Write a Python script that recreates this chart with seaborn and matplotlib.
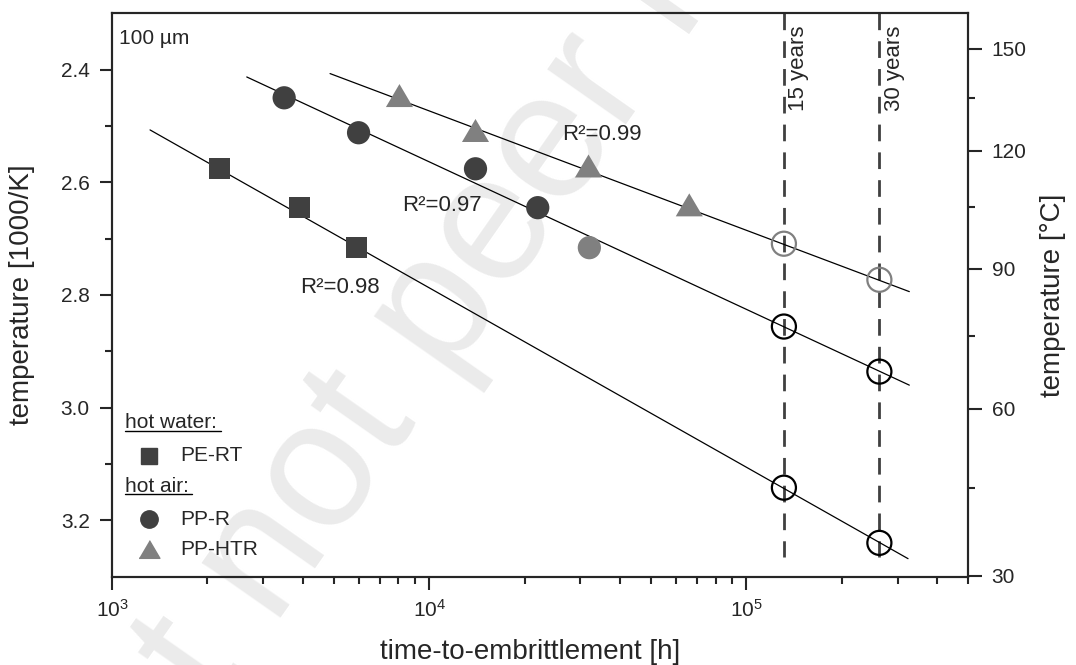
import numpy as np
import matplotlib
matplotlib.use("Agg")
import matplotlib.pyplot as plt
from matplotlib.markers import MarkerStyle
from matplotlib.ticker import FixedLocator, FixedFormatter, LogLocator, NullFormatter
from matplotlib.lines import Line2D
import seaborn as sns

# lifetimes [h] vs. inverse ageing temperature [1000/K]
pe_rt_time = [2180, 3900, 5900]
pe_rt_invT = [2.576, 2.645, 2.716]

pp_r_time = [3490, 5990, 14000, 22000]
pp_r_invT = [2.450, 2.512, 2.576, 2.645]
pp_r_out_time = [32000]
pp_r_out_invT = [2.716]

pp_htr_time = [8060, 14000, 31800, 66100]
pp_htr_invT = [2.446, 2.508, 2.571, 2.640]

# fitted Arrhenius lines (end points)
pe_rt_fit_time = [1318, 323600]
pe_rt_fit_invT = [2.507, 3.268]
pp_r_fit_time = [2660, 326600]
pp_r_fit_invT = [2.413, 2.960]
pp_htr_fit_time = [4870, 326600]
pp_htr_fit_invT = [2.407, 2.794]

# extrapolated values at 15 and 30 years
lifetime_years = [15, 30]
hours_per_year = 8760
extrap_pe_rt = [3.142, 3.240]
extrap_pp_r = [2.856, 2.936]
extrap_pp_htr = [2.709, 2.773]

left_major = [2.4, 2.6, 2.8, 3.0, 3.2]
left_minor = [2.5, 2.7, 2.9, 3.1]
right_major_C = [30, 60, 90, 120, 150]
right_minor_C = [45, 75, 105, 135]

dark = "#404040"
grey = "#808080"

sns.set_style("ticks")
plt.rcParams["font.family"] = ["Liberation Sans", "DejaVu Sans"]
plt.rcParams["mathtext.default"] = "regular"

fig, ax = plt.subplots(figsize=(10.76, 6.65), dpi=100)
fig.subplots_adjust(left=0.1041, right=0.8996, top=0.98, bottom=0.1328)
ax.set_facecolor("none")

# watermark behind everything
fig.text(0.42, 0.56, "Preprint not peer reviewed", rotation=55, fontsize=130,
         color="#ebebeb", ha="center", va="center", zorder=-5)

ax.set_xscale("log")
ax.set_xlim(1e3, 5e5)
ax.set_ylim(3.3, 2.3)

# fit lines
for xs, ys in [(pe_rt_fit_time, pe_rt_fit_invT), (pp_r_fit_time, pp_r_fit_invT),
               (pp_htr_fit_time, pp_htr_fit_invT)]:
    sns.lineplot(x=xs, y=ys, color="black", linewidth=0.9, estimator=None, ax=ax, zorder=2)

# 15 / 30 years
life_hours = np.array(lifetime_years) * hours_per_year
ax.vlines(life_hours, ymin=2.3, ymax=3.265, colors=dark, linestyles=(0, (6, 4)),
          linewidth=2, zorder=1)
for h, yrs in zip(life_hours, lifetime_years):
    ax.annotate(f"{yrs} years", xy=(h, 0.979), xycoords=("data", "axes fraction"),
                xytext=(3, 0), textcoords="offset points", rotation=90,
                ha="left", va="top", fontsize=16)

tri = MarkerStyle([(-1, -0.85), (1, -0.85), (0, 0.85)])

sns.scatterplot(x=pe_rt_time, y=pe_rt_invT, marker="s", s=225, color=dark,
                edgecolor="none", linewidth=0, ax=ax, zorder=3)
sns.scatterplot(x=pp_r_time, y=pp_r_invT, marker="o", s=280, color=dark,
                edgecolor="none", linewidth=0, ax=ax, zorder=3)
sns.scatterplot(x=pp_r_out_time, y=pp_r_out_invT, marker="o", s=280, color=grey,
                edgecolor="none", linewidth=0, ax=ax, zorder=3)
sns.scatterplot(x=pp_htr_time, y=pp_htr_invT, marker=tri, s=380, color=grey,
                edgecolor="none", linewidth=0, ax=ax, zorder=3)

# extrapolated points (open circles)
sns.scatterplot(x=life_hours, y=extrap_pp_htr, marker="o", s=300, facecolors="none",
                edgecolor=grey, linewidth=1.6, ax=ax, zorder=4)
sns.scatterplot(x=life_hours, y=extrap_pp_r, marker="o", s=300, facecolors="none",
                edgecolor="black", linewidth=1.6, ax=ax, zorder=4)
sns.scatterplot(x=life_hours, y=extrap_pe_rt, marker="o", s=300, facecolors="none",
                edgecolor="black", linewidth=1.6, ax=ax, zorder=4)

# R² labels
ax.text(3917, 2.787, "R²=0.98", fontsize=16, ha="left", va="center")
ax.text(8222, 2.642, "R²=0.97", fontsize=16, ha="left", va="center")
ax.text(26280, 2.516, "R²=0.99", fontsize=16, ha="left", va="center")
ax.text(0.008, 0.955, "100 µm", transform=ax.transAxes, fontsize=15, ha="left", va="center")

# hand made legend
tr = ax.transAxes
ax.text(0.0152, 0.2728, "hot water:", transform=tr, fontsize=15, ha="left", va="center")
ax.add_line(Line2D([0.0152, 0.127], [0.259, 0.259], transform=tr, color="black", lw=1))
ax.plot([0.0436], [0.2148], marker="s", ms=11.5, color=dark, transform=tr, clip_on=False)
ax.text(0.0794, 0.2148, "PE-RT", transform=tr, fontsize=15, ha="left", va="center")
ax.text(0.0152, 0.1597, "hot air:", transform=tr, fontsize=15, ha="left", va="center")
ax.add_line(Line2D([0.0152, 0.094], [0.146, 0.146], transform=tr, color="black", lw=1))
ax.plot([0.0436], [0.1019], marker="o", ms=12.5, color=dark, transform=tr, clip_on=False)
ax.text(0.0794, 0.1019, "PP-R", transform=tr, fontsize=15, ha="left", va="center")
ax.plot([0.0436], [0.0486], marker=tri, ms=15, color=grey, transform=tr, clip_on=False)
ax.text(0.0794, 0.0486, "PP-HTR", transform=tr, fontsize=15, ha="left", va="center")

# axes styling
ax.yaxis.set_major_locator(FixedLocator(left_major))
ax.yaxis.set_minor_locator(FixedLocator(left_minor))
ax.yaxis.set_major_formatter(FixedFormatter([f"{v:.1f}" for v in left_major]))
ax.xaxis.set_major_locator(LogLocator(base=10, numticks=10))
ax.xaxis.set_minor_locator(LogLocator(base=10, subs=np.arange(2, 10), numticks=20))
ax.xaxis.set_minor_formatter(NullFormatter())
ax.tick_params(which="major", direction="out", length=9, width=1.5, labelsize=15,
               pad=7, top=False, right=False)
ax.tick_params(which="minor", direction="out", length=5, width=1.5, top=False, right=False)
for sp in ax.spines.values():
    sp.set_linewidth(1.5)
    sp.set_visible(True)
    sp.set_color("black")

ax.set_xlabel("time-to-embrittlement [h]", fontsize=20)
ax.set_ylabel("temperature [1000/K]", fontsize=20)
ax.xaxis.set_label_coords(0.488, -0.11)
ax.yaxis.set_label_coords(-0.09, 0.5)

ax2 = ax.twinx()
ax2.set_ylim(ax.get_ylim())
ax2.yaxis.set_major_locator(FixedLocator([1000 / (c + 273.15) for c in right_major_C]))
ax2.yaxis.set_major_formatter(FixedFormatter([str(c) for c in right_major_C]))
ax2.yaxis.set_minor_locator(FixedLocator([1000 / (c + 273.15) for c in right_minor_C]))
ax2.tick_params(which="major", direction="out", length=10, width=1.5, labelsize=15, pad=7)
ax2.tick_params(which="minor", direction="out", length=5, width=1.5)
for sp in ax2.spines.values():
    sp.set_linewidth(1.5)
ax2.set_ylabel("temperature [°C]", fontsize=20)
ax2.yaxis.set_label_coords(1.084, 0.5)

fig.savefig("out.png", dpi=100)
